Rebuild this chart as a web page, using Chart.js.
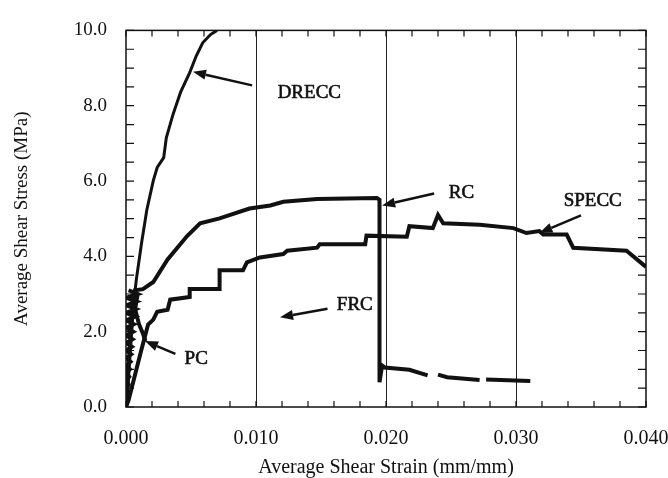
<!DOCTYPE html>
<html lang="en">
<head>
    <meta charset="UTF-8">
    <title>Average Shear Stress vs Strain</title>
    <script src="https://cdn.jsdelivr.net/npm/chart.js"></script>
    <style>
        body {
            margin: 0;
            padding: 0;
            background-color: #fff;
        }
        .chart-container {
            width: 668px;
            height: 478px;
        }
    </style>
</head>
<body>
    <div class="chart-container">
        <canvas id="shearChart"></canvas>
    </div>

    <script>
        // curves (strain in mm/mm, stress in MPa)
        const dreccStrain = [0, 0.0002, 0.0004, 0.0006, 0.0008, 0.0012, 0.0016, 0.0021, 0.0024, 0.0029, 0.0031, 0.0036, 0.0042, 0.0049, 0.0054, 0.0059, 0.0065, 0.0070];
        const dreccStress = [0, 1.0, 2.0, 2.8, 3.4, 4.36, 5.23, 6.01, 6.36, 6.62, 7.15, 7.75, 8.36, 8.88, 9.32, 9.67, 9.89, 10.0];

        const rcStrain = [0, 0.0003, 0.0005, 0.0007, 0.0013, 0.0021, 0.0032, 0.0047, 0.0057, 0.0072, 0.0095, 0.0111, 0.0121, 0.0147, 0.0193, 0.0195, 0.0195, 0.0197, 0.0199, 0.0218, 0.0232, 0.0236, 0.0240, 0.0247, 0.0272, 0.0275, 0.0277, 0.0311];
        const rcStress = [0, 1.5, 2.5, 3.1, 3.13, 3.32, 3.92, 4.54, 4.88, 5.01, 5.27, 5.35, 5.45, 5.52, 5.55, 5.5, 0.66, 1.1, 1.05, 0.99, 0.84, null, 0.86, 0.79, 0.72, null, 0.73, 0.69];

        const speccStrain = [0, 0.0002, 0.0011, 0.0015, 0.0017, 0.0021, 0.0024, 0.0032, 0.0034, 0.0049, 0.0049, 0.0072, 0.0072, 0.0090, 0.0093, 0.0103, 0.0121, 0.0124, 0.0147, 0.0149, 0.0184, 0.0185, 0.0216, 0.0218, 0.0236, 0.0240, 0.0244, 0.0272, 0.0298, 0.0308, 0.0318, 0.0321, 0.0339, 0.0344, 0.0385, 0.0400];
        const speccStress = [0, 0.18, 1.41, 1.93, 2.19, 2.32, 2.53, 2.58, 2.85, 2.92, 3.13, 3.13, 3.63, 3.63, 3.84, 3.97, 4.06, 4.15, 4.23, 4.32, 4.32, 4.55, 4.52, 4.8, 4.75, 5.1, 4.88, 4.84, 4.75, 4.62, 4.67, 4.58, 4.58, 4.23, 4.15, 3.72];

        // PC: dense cyclic loops packed near the origin
        const pcStrain = [0, 0.0001, 0.00002, 0.00015, 0.00002, 0.0002, 0.00002, 0.00025, 0.00002, 0.0003, 0.00002, 0.00035, 0.00002, 0.0004, 0.00002, 0.00045, 0.00002, 0.0005, 0.00002, 0.00055, 0.00002, 0.0006, 0.00002, 0.0007, 0.00002, 0.00075, 0.00002, 0.0008, 0.00002, 0.0009, 0.0002, 0.0009, 0.0007, 0.0010, 0.0013, 0.0015];
        const pcStress = [0, 0.2, 0.3, 0.4, 0.5, 0.6, 0.7, 0.8, 0.9, 1.0, 1.1, 1.2, 1.3, 1.4, 1.5, 1.6, 1.7, 1.8, 1.9, 2.0, 2.1, 2.2, 2.3, 2.4, 2.5, 2.6, 2.7, 2.8, 2.9, 3.0, 3.1, 3.0, 2.6, 2.2, 1.95, 1.75];

        // curve labels and their arrows (data units)
        const labelNames = ['DRECC', 'RC', 'SPECC', 'FRC', 'PC'];
        const labelStrain = [0.0141, 0.0258, 0.0359, 0.0176, 0.0054];
        const labelStress = [8.33, 5.67, 5.46, 2.72, 1.28];
        const arrowTail = [[0.0097, 8.54], [0.0237, 5.67], [0.0350, 5.09], [0.0155, 2.61], [0.0038, 1.41]];
        const arrowHead = [[0.00515, 8.90], [0.0197, 5.35], [0.0318, 4.62], [0.01185, 2.38], [0.00146, 1.75]];

        const serif = "'Liberation Serif', 'Times New Roman', serif";
        Chart.defaults.font.family = serif;
        Chart.defaults.color = '#111';

        function toPoints(xs, ys) {
            return xs.map((x, i) => ({ x: x, y: ys[i] }));
        }

        function isMultiple(v, step) {
            const r = v / step;
            return Math.abs(r - Math.round(r)) < 1e-6;
        }

        // frame, inward ticks, labels and arrows
        const framePlugin = {
            id: 'frame',
            afterDatasetsDraw(chart) {
                const { ctx, chartArea: a, scales: { x, y } } = chart;
                ctx.save();
                ctx.strokeStyle = '#111';
                ctx.lineWidth = 1.5;
                ctx.strokeRect(a.left, a.top, a.right - a.left, a.bottom - a.top);

                ctx.lineWidth = 1.2;
                ctx.beginPath();
                x.ticks.forEach(t => {
                    const px = x.getPixelForValue(t.value);
                    ctx.moveTo(px, a.bottom); ctx.lineTo(px, a.bottom - 6);
                    ctx.moveTo(px, a.top); ctx.lineTo(px, a.top + 6);
                });
                y.ticks.forEach(t => {
                    const py = y.getPixelForValue(t.value);
                    ctx.moveTo(a.left, py); ctx.lineTo(a.left + 8, py);
                    ctx.moveTo(a.right, py); ctx.lineTo(a.right - 8, py);
                });
                ctx.stroke();

                ctx.fillStyle = '#111';
                ctx.font = '19px ' + serif;
                ctx.textAlign = 'center';
                ctx.textBaseline = 'middle';
                ctx.lineWidth = 0.6;
                labelNames.forEach((name, i) => {
                    const lx = x.getPixelForValue(labelStrain[i]);
                    const ly = y.getPixelForValue(labelStress[i]);
                    ctx.fillText(name, lx, ly);
                    ctx.strokeText(name, lx, ly);
                });

                arrowTail.forEach((tail, i) => {
                    const tx = x.getPixelForValue(tail[0]);
                    const ty = y.getPixelForValue(tail[1]);
                    const hx = x.getPixelForValue(arrowHead[i][0]);
                    const hy = y.getPixelForValue(arrowHead[i][1]);
                    const ang = Math.atan2(hy - ty, hx - tx);
                    const len = 13, half = 5;
                    const bx = hx - len * Math.cos(ang);
                    const by = hy - len * Math.sin(ang);
                    ctx.lineWidth = 2.5;
                    ctx.beginPath();
                    ctx.moveTo(tx, ty);
                    ctx.lineTo(bx, by);
                    ctx.stroke();
                    ctx.beginPath();
                    ctx.moveTo(hx, hy);
                    ctx.lineTo(bx + half * Math.sin(ang), by - half * Math.cos(ang));
                    ctx.lineTo(bx - half * Math.sin(ang), by + half * Math.cos(ang));
                    ctx.closePath();
                    ctx.fill();
                });
                ctx.restore();
            }
        };

        const curve = (xs, ys, w) => ({
            data: toPoints(xs, ys),
            showLine: true,
            borderColor: '#111',
            borderWidth: w,
            pointRadius: 0,
            tension: 0,
            spanGaps: false
        });

        const ctx = document.getElementById('shearChart').getContext('2d');
        new Chart(ctx, {
            type: 'scatter',
            data: {
                datasets: [
                    curve(dreccStrain, dreccStress, 3),
                    curve(rcStrain, rcStress, 4),
                    curve(speccStrain, speccStress, 4),
                    curve(pcStrain, pcStress, 4)
                ]
            },
            options: {
                responsive: true,
                maintainAspectRatio: false,
                animation: false,
                layout: { padding: { top: 24, right: 22, left: 0, bottom: 0 } },
                plugins: {
                    legend: { display: false },
                    tooltip: { enabled: false }
                },
                scales: {
                    x: {
                        type: 'linear',
                        min: 0,
                        max: 0.04,
                        border: { display: false },
                        grid: {
                            drawTicks: false,
                            lineWidth: 1,
                            color: c => (c.tick && isMultiple(c.tick.value, 0.01) && c.tick.value > 0.001 && c.tick.value < 0.039) ? '#222' : 'rgba(0,0,0,0)'
                        },
                        ticks: {
                            stepSize: 0.002,
                            autoSkip: false,
                            maxRotation: 0,
                            padding: 20,
                            font: { size: 20 },
                            callback: v => isMultiple(v, 0.01) ? v.toFixed(3) : ''
                        },
                        title: {
                            display: true,
                            text: 'Average Shear Strain (mm/mm)',
                            font: { size: 20, lineHeight: 1 },
                            padding: { top: 0, bottom: 0 }
                        },
                        afterFit: s => {
                            s.height = 71;
                            s.paddingLeft = 0;
                            s.paddingRight = 0;
                        }
                    },
                    y: {
                        min: 0,
                        max: 10,
                        border: { display: false },
                        grid: { display: false, drawTicks: false },
                        ticks: {
                            stepSize: 0.5,
                            autoSkip: false,
                            padding: 19,
                            font: { size: 19 },
                            callback: v => isMultiple(v, 2) ? v.toFixed(1) : ''
                        },
                        title: {
                            display: true,
                            text: 'Average Shear Stress (MPa)',
                            font: { size: 19, lineHeight: 1 },
                            padding: { top: 13, bottom: 0 }
                        },
                        afterFit: s => {
                            s.width = 126;
                        }
                    }
                }
            },
            plugins: [framePlugin]
        });
    </script>
</body>
</html>
